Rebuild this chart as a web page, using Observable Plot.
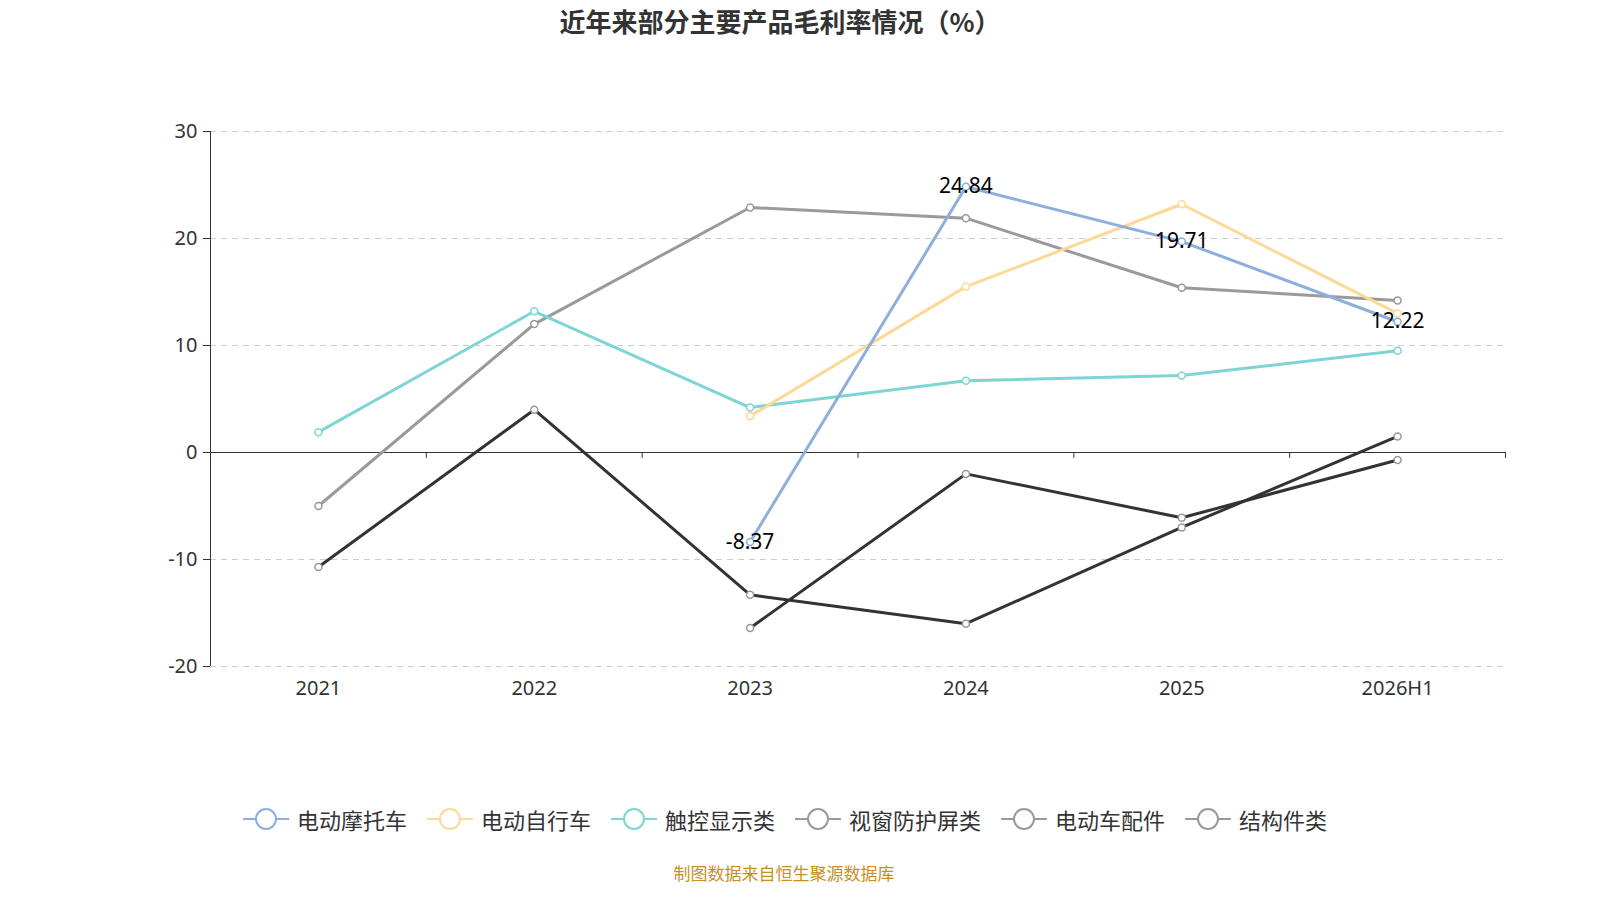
<!DOCTYPE html>
<html><head><meta charset="utf-8">
<script src="https://cdn.jsdelivr.net/npm/d3@7"></script>
<script src="https://cdn.jsdelivr.net/npm/@observablehq/plot@0.6"></script>
<style>
body{margin:0;width:1600px;height:900px;background:#fff;font-family:"Noto Sans CJK SC","Noto Sans",sans-serif;position:relative;overflow:hidden}
#title{position:absolute;top:2px;left:0;width:1560px;text-align:center;font-size:26px;font-weight:bold;color:#333}
#chart{position:absolute;top:50px;left:0}
#legend{position:absolute;top:803px;left:0;width:1570px;display:flex;justify-content:center;gap:20px;font-size:22px;color:#333}
#legend div{display:flex;align-items:center;gap:8px}
#cap{position:absolute;top:860px;left:0;width:1568px;text-align:center;font-size:17px;color:#c8901a}
</style></head><body>
<div id="title">近年来部分主要产品毛利率情况（%）</div>
<div id="chart"></div>
<div id="legend"></div>
<div id="cap">制图数据来自恒生聚源数据库</div>
<script>
const years = ["2021","2022","2023","2024","2025","2026H1"];
const seriesNames = ["电动摩托车","电动自行车","触控显示类","视窗防护屏类","电动车配件","结构件类"];
const colors = ["#8eaedc","#fdd997","#7fd4d4","#9a9a9a","#333333","#333333"];
const legendColors = ["#8eaedc","#fdd997","#7fd4d4","#9a9a9a","#9a9a9a","#9a9a9a"];
const motoValues = [null,null,-8.37,24.84,19.71,12.22];
const bikeValues = [null,null,3.4,15.5,23.2,13.0];
const touchValues = [1.9,13.2,4.2,6.7,7.2,9.5];
const windowValues = [-5.0,12.0,22.9,21.9,15.4,14.2];
const partsValues = [-10.7,4.0,-13.3,-16.0,-7.0,1.5];
const structValues = [null,null,-16.4,-2.0,-6.1,-0.7];
const yTicks = [-20,-10,0,10,20,30];
const allValues = [motoValues,bikeValues,touchValues,windowValues,partsValues,structValues];
const data = [];
allValues.forEach((vals,s)=>vals.forEach((v,i)=>{ if(v!==null) data.push({s,i,v}); }));
const labels = data.filter(d=>d.s===0);
const order = [3,4,5,2,1,0];
const bounds = d3.range(7).map(k=>({x:k-0.5}));
const marks = [
  Plot.ruleY(yTicks.filter(t=>t!==0),{y:d=>d,stroke:"#ccc",strokeDasharray:"6,5"}),
  Plot.ruleY([0],{y:d=>d,stroke:"#333"}),
  Plot.ruleX([{x:-0.5}],{x:"x",stroke:"#333"}),
  Plot.ruleX(bounds,{x:"x",y1:()=>0,y2:()=>-0.55,stroke:"#333"}),
  Plot.axisY({ticks:yTicks,tickSize:7,tickPadding:6,tickFormat:d=>String(d),label:null,fontSize:20}),
  Plot.axisX({ticks:d3.range(6),tickFormat:i=>years[i],tickSize:0,tickPadding:14,label:null,fontSize:20}),
];
for(const s of order){
  const d = data.filter(x=>x.s===s);
  marks.push(Plot.line(d,{x:"i",y:"v",stroke:colors[s],strokeWidth:3}));
}
for(const s of order){
  const d = data.filter(x=>x.s===s);
  marks.push(Plot.dot(d,{x:"i",y:"v",r:3.5,fill:"#fff",stroke:s<3?colors[s]:"#999",strokeWidth:1.5}));
}
marks.push(Plot.text(labels,{x:"i",y:"v",text:d=>d.v.toFixed(2),fontSize:21,fill:"#000"}));
const chart = Plot.plot({
  width:1600,height:700,marginLeft:210,marginRight:95,marginTop:81,marginBottom:84,
  style:{fontSize:"20px",fontFamily:"Noto Sans, sans-serif",color:"#333"},
  x:{type:"linear",domain:[-0.5,5.5]},
  y:{type:"linear",domain:[-20,30]},
  marks
});
document.getElementById("chart").appendChild(chart);
const lg = document.getElementById("legend");
seriesNames.forEach((n,s)=>{
  const el=document.createElement("div");
  el.innerHTML=`<svg width="46" height="26"><line x1="0" y1="13" x2="46" y2="13" stroke="${legendColors[s]}" stroke-width="2"/><circle cx="23" cy="13" r="10" fill="#fff" stroke="${legendColors[s]}" stroke-width="2"/></svg><span>${n}</span>`;
  lg.appendChild(el);
});
</script></body></html>
